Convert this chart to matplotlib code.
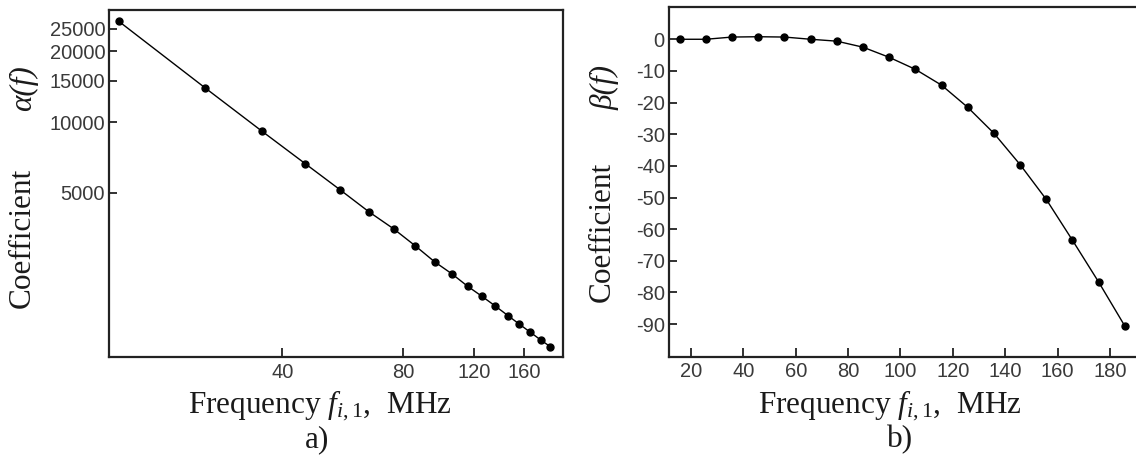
import matplotlib
matplotlib.use("Agg")
import matplotlib.pyplot as plt
from matplotlib.ticker import FixedLocator, NullLocator, FixedFormatter

# data
freq = [15.7, 25.7, 35.7, 45.7, 55.7, 65.7, 75.7, 85.7, 95.7,
        105.7, 115.7, 125.7, 135.7, 145.7, 155.7, 165.7, 175.7, 185.7]
alpha_f = [26830, 14010, 9130, 6650, 5160, 4160, 3520, 2980, 2550,
           2265, 2005, 1815, 1650, 1505, 1382, 1278, 1186, 1110]
beta_f = [0.0, 0.0, 0.7, 0.8, 0.7, 0.0, -0.6, -2.5, -5.7,
          -9.5, -14.5, -21.5, -29.7, -39.6, -50.6, -63.5, -76.7, -90.6]

a_xticks = [40, 80, 120, 160]
a_yticks = [5000, 10000, 15000, 20000, 25000]
b_xticks = [20, 40, 60, 80, 100, 120, 140, 160, 180]
b_yticks = [0, -10, -20, -30, -40, -50, -60, -70, -80, -90]

plt.rcParams['mathtext.fontset'] = 'custom'
plt.rcParams['mathtext.rm'] = 'Liberation Serif'
plt.rcParams['mathtext.it'] = 'Liberation Serif:italic'
plt.rcParams['axes.unicode_minus'] = False

W, H = 1136, 459
fig = plt.figure(figsize=(W / 100, H / 100), dpi=100)


def box(x0, y0, x1, y1):
    # pixel box (top-left origin) -> figure fraction
    return [x0 / W, 1 - y1 / H, (x1 - x0) / W, (y1 - y0) / H]


def ptext(x, y, s, **kw):
    fig.text(x / W, 1 - y / H, s, **kw)


tick_font = dict(family='Liberation Sans', size=14.5, color='#3a3a3a')
serif = dict(family='Liberation Serif', size=22.5, color='#1a1a1a')


def style(ax):
    for sp in ax.spines.values():
        sp.set_linewidth(1.6)
        sp.set_color('#222222')
    ax.tick_params(which='major', direction='in', width=1.3, color='#222222')
    ax.tick_params(axis='x', length=6.5, pad=4)
    ax.tick_params(axis='y', length=5.5, pad=3)
    for lab in ax.get_xticklabels() + ax.get_yticklabels():
        lab.set_fontfamily(tick_font['family'])
        lab.set_fontsize(tick_font['size'])
        lab.set_color(tick_font['color'])


# a) log-log
ax1 = fig.add_axes(box(109.3, 10, 563.2, 357.3))
ax1.plot(freq, alpha_f, '-', color='black', lw=1.0,
         marker='o', ms=5, mfc='black', mec='black')
ax1.set_xscale('log')
ax1.set_yscale('log')
ax1.set_xlim(14.86, 200)
ax1.set_ylim(1000, 30000)
ax1.xaxis.set_major_locator(FixedLocator(a_xticks))
ax1.xaxis.set_major_formatter(FixedFormatter([str(t) for t in a_xticks]))
ax1.xaxis.set_minor_locator(NullLocator())
ax1.yaxis.set_major_locator(FixedLocator(a_yticks))
ax1.yaxis.set_major_formatter(FixedFormatter([str(t) for t in a_yticks]))
ax1.yaxis.set_minor_locator(NullLocator())
style(ax1)

# b) linear
ax2 = fig.add_axes(box(669, 7.3, 1140, 356.7))
ax2.plot(freq, beta_f, '-', color='black', lw=1.0,
         marker='o', ms=5, mfc='black', mec='black')
ax2.set_xlim(11.6, 191.5)
ax2.set_ylim(-100.3, 10.1)
ax2.set_xticks(b_xticks)
ax2.set_yticks(b_yticks)
ax2.spines['right'].set_visible(False)
style(ax2)

# labels
xlab = r"Frequency $f_{\mathit{i,1}}$,  MHz"
ptext(320, 413, xlab, ha='center', va='baseline', **serif)
ptext(890, 413, xlab, ha='center', va='baseline', **serif)
ptext(317, 447, "a)", ha='center', va='baseline', **serif)
ptext(900, 447, "b)", ha='center', va='baseline', **serif)

ptext(22.5, 237.5, "Coefficient", ha='center', va='center', rotation=90, **serif)
ptext(24, 88, "α(f)", ha='center', va='center', rotation=90,
      style='italic', **serif)
ptext(602.5, 232, "Coefficient", ha='center', va='center', rotation=90, **serif)
ptext(605, 87, "β(f)", ha='center', va='center', rotation=90,
      style='italic', **serif)

fig.savefig("out.png", dpi=100)
